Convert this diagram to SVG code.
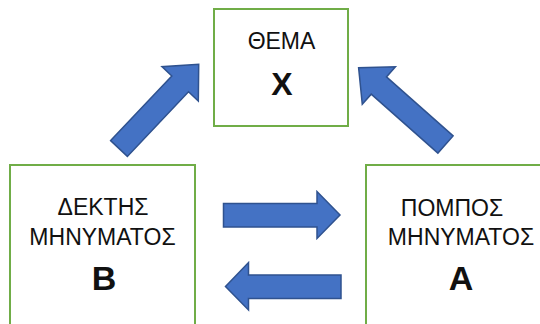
<svg xmlns="http://www.w3.org/2000/svg" width="540" height="324" viewBox="0 0 540 324">
  <style>
    .box { fill: #ffffff; stroke: #70ad47; stroke-width: 2; }
    .arrow { fill: #4472c4; stroke: #2f528f; stroke-width: 1.5; stroke-linejoin: miter; }
    .label { font-family: "Liberation Sans", Arial, sans-serif; font-size: 23px; fill: #111111; text-anchor: middle; }
    .letter { font-family: "Liberation Sans", Arial, sans-serif; font-weight: bold; fill: #111111; text-anchor: middle; }
  </style>
  <defs>
    <!-- block arrow pointing along +x, tail centred at the origin -->
    <path id="diag-arrow" d="M0,-11.5 H89 V-25 L116,0 L89,25 V11.5 H0 Z"/>
  </defs>
  <rect width="540" height="324" fill="#ffffff"/>

  <g id="connectors">
    <use href="#diag-arrow" class="arrow" transform="translate(119,148.5) rotate(-46.6)"/>
    <use href="#diag-arrow" class="arrow" transform="translate(445.5,144.5) rotate(-138.5)"/>
    <path class="arrow" d="M223.5,203.5 H317 V191.5 L340,215 L317,238.5 V227 H223.5 Z"/>
    <path class="arrow" d="M341,275 H248.5 V262.5 L225.5,286.5 L248.5,310 V298.5 H341 Z"/>
  </g>

  <g id="node-topic">
    <rect class="box" x="214" y="9" width="134" height="117"/>
    <text class="label" x="281.5" y="49">ΘΕΜΑ</text>
    <text class="letter" x="282" y="95" font-size="32">X</text>
  </g>

  <g id="node-receiver">
    <rect class="box" x="10" y="165" width="185" height="175"/>
    <text class="label" x="103" y="215">ΔΕΚΤΗΣ</text>
    <text class="label" x="102.5" y="245">ΜΗΝΥΜΑΤΟΣ</text>
    <text class="letter" x="104" y="290" font-size="34">B</text>
  </g>

  <g id="node-sender">
    <rect class="box" x="366" y="165" width="200" height="175"/>
    <text class="label" x="452" y="216">ΠΟΜΠΟΣ</text>
    <text class="label" x="461" y="245">ΜΗΝΥΜΑΤΟΣ</text>
    <text class="letter" x="461" y="290" font-size="34">A</text>
  </g>
</svg>
